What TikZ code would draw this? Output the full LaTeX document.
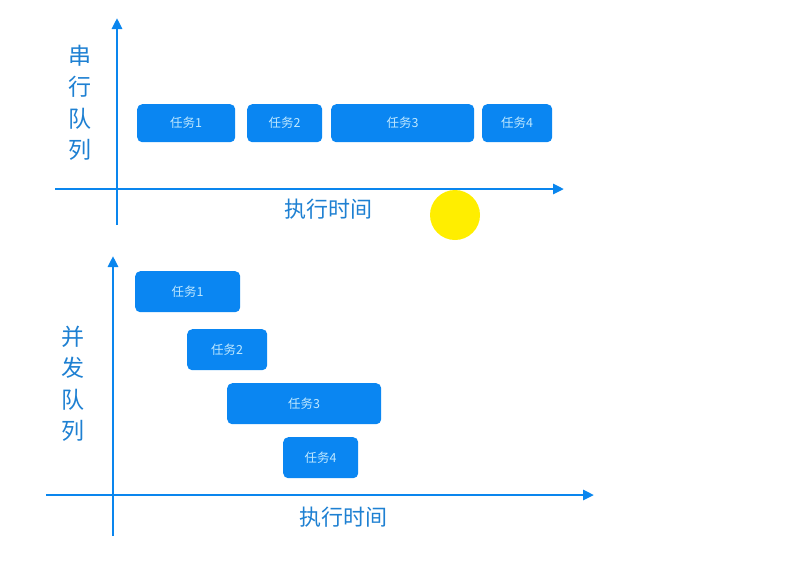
\documentclass[tikz,border=0pt]{standalone}
\usepackage{fontspec}
\newfontfamily\cjk{Noto Sans CJK SC}
\usetikzlibrary{arrows.meta}
\definecolor{axisblue}{HTML}{0A86EE}
\definecolor{boxblue}{HTML}{0A86F2}
\definecolor{boxtext}{HTML}{BFE8FF}
\definecolor{labelblue}{HTML}{1E80D2}
\definecolor{dotyellow}{HTML}{FFEE00}
\begin{document}
\begin{tikzpicture}[x=1pt,y=-1pt,
  axis/.style={draw=axisblue,line width=2.8pt,-{Triangle[length=11pt,width=10pt]}},
  task/.style={fill=boxblue,rounded corners=5pt,inner sep=0pt,anchor=north west,
    text=boxtext,font=\cjk\fontsize{12.5}{14}\selectfont,align=center},
  vlabel/.style={text=labelblue,font=\cjk\fontsize{23}{31.5}\selectfont,align=center},
  hlabel/.style={text=labelblue,font=\cjk\fontsize{22}{26}\selectfont}]
\useasboundingbox (0,0) rectangle (792,566);
% top panel
\coordinate (t0) at (117,225);
\coordinate (t1) at (117,18);
\coordinate (t2) at (55,189);
\coordinate (t3) at (564,189);
\draw[axis] (t0) -- (t1);
\draw[axis] (t2) -- (t3);
\node[vlabel] (tl) at (80,103) {串\\行\\队\\列};
\node[hlabel] (tx) at (328,209) {执行时间};
\node[task,minimum width=98pt,minimum height=38pt] (a1) at (137,104) {任务1};
\node[task,minimum width=75pt,minimum height=38pt] (a2) at (247,104) {任务2};
\node[task,minimum width=143pt,minimum height=38pt] (a3) at (331,104) {任务3};
\node[task,minimum width=70pt,minimum height=38pt] (a4) at (482,104) {任务4};
\node[circle,fill=dotyellow,minimum size=50pt,inner sep=0pt] (dot) at (455,215) {};
% bottom panel
\coordinate (b0) at (113,536);
\coordinate (b1) at (113,256);
\coordinate (b2) at (46,495);
\coordinate (b3) at (594,495);
\draw[axis] (b0) -- (b1);
\draw[axis] (b2) -- (b3);
\node[vlabel] (bl) at (73,384) {并\\发\\队\\列};
\node[hlabel] (bx) at (343,517) {执行时间};
\node[task,minimum width=105pt,minimum height=41pt] (c1) at (135,271) {任务1};
\node[task,minimum width=80pt,minimum height=41pt] (c2) at (187,329) {任务2};
\node[task,minimum width=154pt,minimum height=41pt] (c3) at (227,383) {任务3};
\node[task,minimum width=75pt,minimum height=41pt] (c4) at (283,437) {任务4};
\end{tikzpicture}
\end{document}
